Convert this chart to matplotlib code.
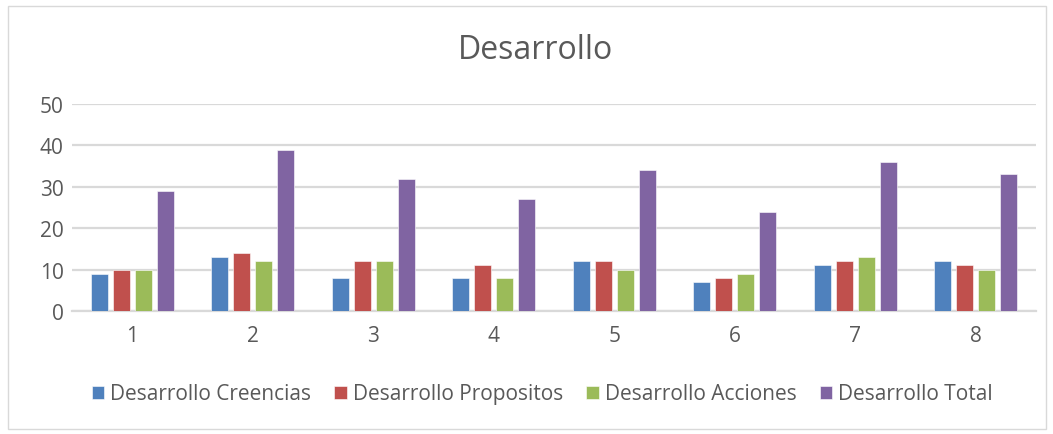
import numpy as np
import matplotlib.pyplot as plt
from matplotlib.patches import Rectangle

plt.rcParams['font.family'] = ['Open Sans', 'DejaVu Sans']

categories = ["1", "2", "3", "4", "5", "6", "7", "8"]
creencias = [9, 13, 8, 8, 12, 7, 11, 12]
propositos = [10, 14, 12, 11, 12, 8, 12, 11]
acciones = [10, 12, 12, 8, 10, 9, 13, 10]
total = [29, 39, 32, 27, 34, 24, 36, 33]

series = [
    ("Desarrollo Creencias", creencias, "#4F81BD"),
    ("Desarrollo Propositos", propositos, "#C0504D"),
    ("Desarrollo Acciones", acciones, "#9BBB59"),
    ("Desarrollo Total", total, "#8064A2"),
]

text_color = "#595959"

fig = plt.figure(figsize=(10.53, 4.35), dpi=100)
ax = fig.add_axes([0.0684, 0.2828, 0.9156, 0.4758])

x = np.arange(len(categories))
width = 0.141
step = 0.1826
for i, (name, vals, color) in enumerate(series):
    ax.bar(x + (i - 1.5) * step, vals, width=width, color=color, label=name,
           edgecolor="white", linewidth=0.4, zorder=3)

ax.set_xlim(-0.5, len(categories) - 0.5)
ax.set_ylim(0, 50)
ax.set_yticks(range(0, 51, 10))
ax.set_xticks(x)
ax.set_xticklabels(categories)
ax.grid(axis="y", color="#D9D9D9", linewidth=1.6, zorder=0)
for s in ["top", "right", "left"]:
    ax.spines[s].set_visible(False)
ax.spines["bottom"].set_color("#D9D9D9")
ax.spines["bottom"].set_linewidth(1.6)
ax.tick_params(axis="both", length=0, labelsize=15, colors=text_color)
ax.tick_params(axis="x", pad=10)
ax.tick_params(axis="y", pad=6)

fig.text(0.509, 0.885, "Desarrollo", ha="center", va="center", fontsize=23,
         color=text_color)

ax.legend(loc="center", bbox_to_anchor=(0.515, 0.092), bbox_transform=fig.transFigure,
          ncol=4, frameon=False, fontsize=15, handlelength=0.6, handleheight=0.6,
          handletextpad=0.3, columnspacing=1.1, labelcolor=text_color)

fig.patches.append(Rectangle((0.008, 0.012), 0.985, 0.972, transform=fig.transFigure,
                             fill=False, edgecolor="#D9D9D9", linewidth=1))

fig.savefig("out.png", dpi=100)
